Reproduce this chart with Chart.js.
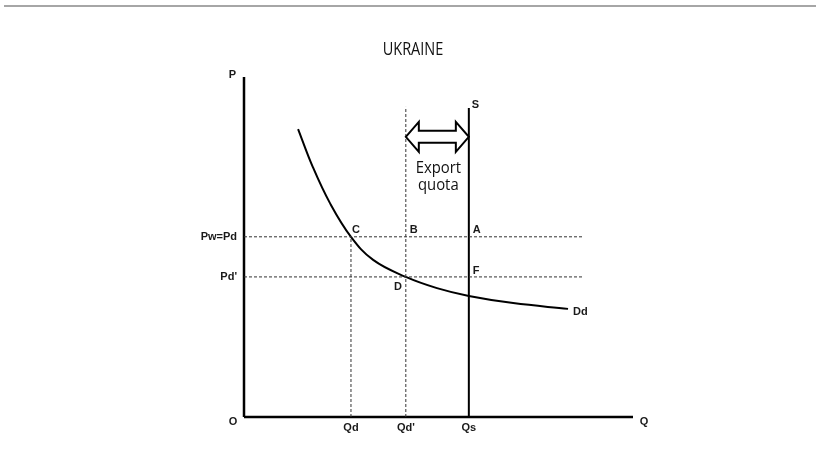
<!DOCTYPE html>
<html>
<head>
<meta charset="utf-8">
<script src="https://cdn.jsdelivr.net/npm/chart.js@4.4.0/dist/chart.umd.min.js"></script>
<style>
  body { margin: 0; background: #fff; }
  #topRule { position: absolute; left: 4px; top: 5px; width: 812px; height: 2px; background: #a6a6a6; }
  #wrap { position: absolute; left: 0; top: 0; }
</style>
</head>
<body>
<div id="topRule"></div>
<div id="wrap"><canvas id="chart" width="816" height="456"></canvas></div>
<script>
// quantities on the Q axis (axis runs 0..100)
const quantityLabels = ["Qd", "Qd'", "Qs"];
const quantityValues = [27.5, 41.6, 57.8];
// prices on the P axis (axis runs 0..100)
const priceLabels = ["Pw=Pd", "Pd'"];
const priceValues = [53, 41.2];

// demand curve Dd
const demandQ = [13.9, 17.7, 22.1, 27.5, 33.2, 41.6, 49.6, 57.8, 69.2, 83.3];
const demandP = [84.7, 73.5, 62.9, 53, 46.2, 41.2, 37.9, 35.6, 33.5, 31.8];

const supplyTop = 90.9;     // top of S
const qdPrimeTop = 91.2;    // top of the dashed Qd' line
const guideEnd = 87.1;      // where the dashed price lines stop
const arrowLevel = 82.4;    // export quota arrow height

const [qd, qdPrime, qs] = quantityValues;
const [pw, pdPrime] = priceValues;

function seg(x1, y1, x2, y2) {
  return [{ x: x1, y: y1 }, { x: x2, y: y2 }];
}

const dashed = { borderColor: "#333", borderWidth: 1, borderDash: [3, 2] };

const datasets = [
  Object.assign({ data: seg(0, pw, guideEnd, pw) }, dashed),
  Object.assign({ data: seg(0, pdPrime, guideEnd, pdPrime) }, dashed),
  Object.assign({ data: seg(qd, 0, qd, pw) }, dashed),
  Object.assign({ data: seg(qdPrime, 0, qdPrime, qdPrimeTop) }, dashed),
  { data: seg(qs, 0, qs, supplyTop), borderColor: "#000", borderWidth: 2 },
  {
    data: demandQ.map((q, i) => ({ x: q, y: demandP[i] })),
    borderColor: "#000",
    borderWidth: 2,
    tension: 0.4
  },
  // axes
  { data: seg(0, 0, 0, 100), borderColor: "#000", borderWidth: 2.5 },
  { data: seg(0, 0, 100, 0), borderColor: "#000", borderWidth: 2.5 }
];

// condensed look: draw a normal sans squeezed horizontally
function narrowText(ctx, text, cx, cy, size, sx) {
  ctx.save();
  ctx.translate(cx, cy);
  ctx.scale(sx, 1);
  ctx.font = size + "px 'Open Sans', sans-serif";
  ctx.textAlign = "center";
  ctx.textBaseline = "alphabetic";
  ctx.fillText(text, 0, 0);
  ctx.restore();
}

const labelsPlugin = {
  id: "labels",
  afterDatasetsDraw(chart) {
    const ctx = chart.ctx;
    const x = chart.scales.x, y = chart.scales.y;
    const X = v => x.getPixelForValue(v);
    const Y = v => y.getPixelForValue(v);

    ctx.save();

    // export quota arrow (hollow, double headed)
    const xl = X(qdPrime), xr = X(qs), yc = Y(arrowLevel);
    const hl = 13, hh = 15, sh = 6;
    ctx.beginPath();
    ctx.moveTo(xl, yc);
    ctx.lineTo(xl + hl, yc - hh);
    ctx.lineTo(xl + hl, yc - sh);
    ctx.lineTo(xr - hl, yc - sh);
    ctx.lineTo(xr - hl, yc - hh);
    ctx.lineTo(xr, yc);
    ctx.lineTo(xr - hl, yc + hh);
    ctx.lineTo(xr - hl, yc + sh);
    ctx.lineTo(xl + hl, yc + sh);
    ctx.lineTo(xl + hl, yc + hh);
    ctx.closePath();
    ctx.fillStyle = "#fff";
    ctx.fill();
    ctx.lineWidth = 2;
    ctx.strokeStyle = "#000";
    ctx.stroke();

    ctx.fillStyle = "#111";
    narrowText(ctx, "Export", (xl + xr) / 2 + 1, yc + 36, 16.5, 0.9);
    narrowText(ctx, "quota", (xl + xr) / 2 + 1, yc + 53, 16.5, 0.9);

    // title
    narrowText(ctx, "UKRAINE", chart.width / 2 + 5, 55, 17.5, 0.83);

    // small bold labels
    ctx.font = "bold 11px 'Liberation Sans', Arial, sans-serif";
    ctx.fillStyle = "#1a1a1a";
    ctx.textBaseline = "middle";
    ctx.textAlign = "center";
    quantityLabels.forEach((t, i) => ctx.fillText(t, X(quantityValues[i]), Y(0) + 11));
    ctx.fillText("O", X(0) - 11, Y(0) + 5);
    ctx.fillText("Q", X(100) + 11, Y(0) + 5);

    ctx.textAlign = "right";
    priceLabels.forEach((t, i) => ctx.fillText(t, X(0) - 7, Y(priceValues[i])));
    ctx.fillText("P", X(0) - 8, Y(100) - 2);
    ctx.fillText("D", X(qdPrime) - 4, Y(pdPrime) + 10);

    ctx.textAlign = "left";
    ctx.fillText("S", X(qs) + 3, Y(supplyTop) - 3);
    ctx.fillText("C", X(qd) + 1, Y(pw) - 7);
    ctx.fillText("B", X(qdPrime) + 4, Y(pw) - 7);
    ctx.fillText("A", X(qs) + 4, Y(pw) - 7);
    ctx.fillText("F", X(qs) + 4, Y(pdPrime) - 6);
    const last = demandQ.length - 1;
    ctx.fillText("Dd", X(demandQ[last]) + 5, Y(demandP[last]) + 3);

    ctx.restore();
  }
};

new Chart(document.getElementById("chart").getContext("2d"), {
  type: "scatter",
  data: { datasets: datasets.map(d => Object.assign({ showLine: true, pointRadius: 0, clip: false }, d)) },
  options: {
    responsive: false,
    animation: false,
    layout: { padding: { left: 244, right: 183, top: 77, bottom: 39 } },
    scales: {
      x: { type: "linear", min: 0, max: 100, display: false },
      y: { type: "linear", min: 0, max: 100, display: false }
    },
    plugins: { legend: { display: false }, tooltip: { enabled: false } }
  },
  plugins: [labelsPlugin]
});
</script>
</body>
</html>
